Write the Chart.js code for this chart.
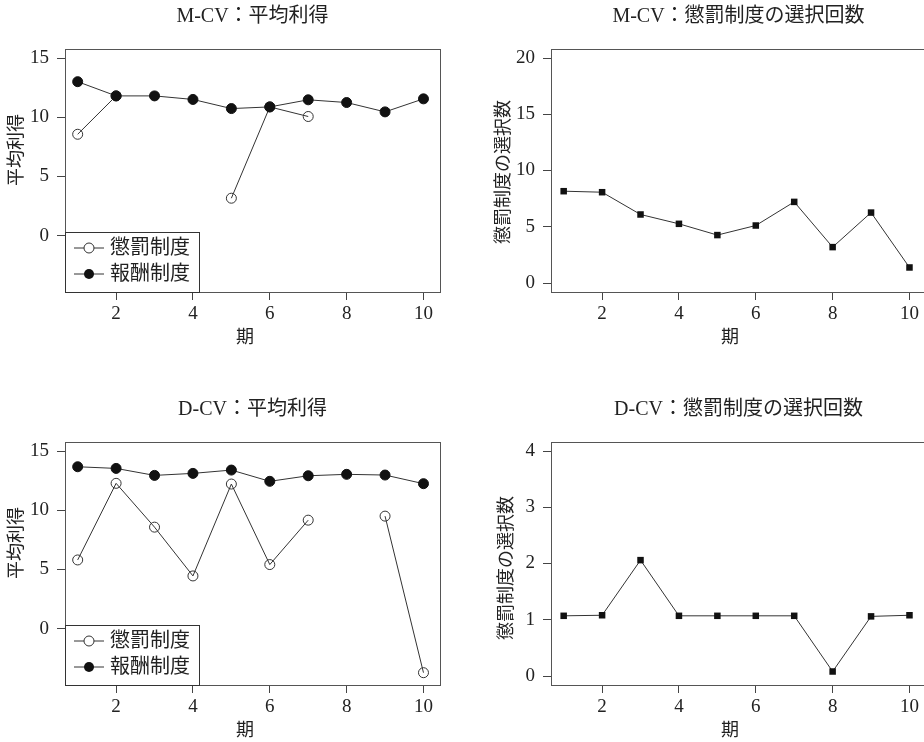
<!DOCTYPE html>
<html>
<head>
<meta charset="utf-8">
<script src="https://cdn.jsdelivr.net/npm/chart.js@4.4.1/dist/chart.umd.min.js"></script>
<style>
  body { margin: 0; background: #fff; width: 924px; height: 742px; overflow: hidden; position: relative; }
  canvas { position: absolute; }
</style>
</head>
<body>
<canvas id="c1" width="462" height="371" style="left:0;top:0"></canvas>
<canvas id="c2" width="470" height="371" style="left:462px;top:0"></canvas>
<canvas id="c3" width="462" height="371" style="left:0;top:371px"></canvas>
<canvas id="c4" width="470" height="371" style="left:462px;top:371px"></canvas>
<script>
const periods = [1, 2, 3, 4, 5, 6, 7, 8, 9, 10];
const mcvPunish = [8.56, 11.8, null, null, 3.16, 10.87, 10.06, null, null, null];
const mcvReward = [13.0, 11.8, 11.8, 11.5, 10.73, 10.87, 11.47, 11.24, 10.45, 11.55];
const mcvChoice = [8.16, 8.07, 6.09, 5.26, 4.26, 5.11, 7.21, 3.19, 6.26, 1.38];
const dcvPunish = [5.80, 12.27, 8.57, 4.45, 12.21, 5.41, 9.16, null, 9.50, -3.72];
const dcvReward = [13.67, 13.53, 12.94, 13.11, 13.39, 12.44, 12.91, 13.03, 12.97, 12.24];
const dcvChoice = [1.07, 1.08, 2.06, 1.07, 1.07, 1.07, 1.07, 0.08, 1.06, 1.08];

const xTicks = [2, 4, 6, 8, 10];
const payoffTicks = [0, 5, 10, 15];
const mcvChoiceTicks = [0, 5, 10, 15, 20];
const dcvChoiceTicks = [0, 1, 2, 3, 4];

const seriesNames = ['懲罰制度', '報酬制度'];
const FONT = '"Liberation Serif", "Noto Sans CJK JP", serif';
const INK = '#222';

const pts = vals => periods.map((p, i) => ({ x: p, y: vals[i] }));

// draws the R-style box, titles, axis labels and legend
const decor = {
  id: 'decor',
  afterDraw(chart, args, o) {
    const { ctx, chartArea: a } = chart;
    ctx.save();
    ctx.strokeStyle = '#555';
    ctx.lineWidth = 1;
    ctx.strokeRect(a.left + 0.5, a.top + 0.5, a.right - a.left, a.bottom - a.top);

    ctx.fillStyle = INK;
    ctx.textAlign = 'center';
    ctx.textBaseline = 'middle';
    ctx.font = '20px ' + FONT;
    ctx.fillText(o.title, (a.left + a.right) / 2, o.titleY);

    ctx.font = '18px ' + FONT;
    ctx.fillText('期', o.xlab[0], o.xlab[1]);

    ctx.save();
    ctx.translate(o.ylab[0], o.ylab[1]);
    ctx.rotate(-Math.PI / 2);
    ctx.fillText(o.ylabText, 0, 0);
    ctx.restore();

    if (o.legend) {
      const lx = a.left, ly = a.bottom - 60;
      ctx.fillStyle = '#fff';
      ctx.fillRect(lx, ly, 134, 60);
      ctx.strokeStyle = '#333';
      ctx.strokeRect(lx + 0.5, ly + 0.5, 134, 60);
      seriesNames.forEach((name, i) => {
        const y = ly + 16 + i * 26;
        ctx.strokeStyle = '#333';
        ctx.beginPath();
        ctx.moveTo(lx + 9, y);
        ctx.lineTo(lx + 39, y);
        ctx.stroke();
        ctx.beginPath();
        ctx.arc(lx + 24, y, 5, 0, Math.PI * 2);
        if (i === 0) {
          ctx.fillStyle = '#fff';
          ctx.fill();
          ctx.stroke();
        } else {
          ctx.fillStyle = '#111';
          ctx.fill();
        }
        ctx.fillStyle = INK;
        ctx.textAlign = 'left';
        ctx.font = '20px ' + FONT;
        ctx.fillText(name, lx + 45, y + 1);
      });
    }
    ctx.restore();
  }
};

function scales(ymin, ymax, yTicks, yWidth, xHeight) {
  const grid = { display: true, drawOnChartArea: false, drawTicks: true, tickLength: 8, color: '#444' };
  return {
    x: {
      type: 'linear', min: 0.67, max: 10.43,
      grid, border: { display: false },
      afterBuildTicks: s => { s.ticks = xTicks.map(v => ({ value: v })); },
      afterFit: s => { s.height = xHeight; },
      ticks: { color: INK, font: { family: FONT, size: 19 }, padding: 3, maxRotation: 0 }
    },
    y: {
      min: ymin, max: ymax,
      grid, border: { display: false },
      afterBuildTicks: s => { s.ticks = yTicks.map(v => ({ value: v })); },
      afterFit: s => { s.width = yWidth; },
      ticks: { color: INK, font: { family: FONT, size: 19 }, padding: 8 }
    }
  };
}

const baseOpts = {
  responsive: false,
  animation: false,
  plugins: { legend: { display: false }, tooltip: { enabled: false } }
};

function payoffChart(id, punish, reward, title, top, bottom) {
  new Chart(document.getElementById(id), {
    type: 'line',
    data: {
      datasets: [
        { data: pts(punish), order: 1, borderColor: '#333', borderWidth: 1, pointRadius: 5,
          pointBackgroundColor: 'rgba(0,0,0,0)', pointBorderColor: '#333', pointBorderWidth: 1, tension: 0 },
        { data: pts(reward), order: 0, borderColor: '#333', borderWidth: 1, pointRadius: 5,
          pointBackgroundColor: '#111', pointBorderColor: '#111', pointBorderWidth: 1, tension: 0 }
      ]
    },
    options: {
      ...baseOpts,
      layout: { padding: { top: top, left: 0, right: 22, bottom: 0 } },
      scales: scales(-4.76, 15.76, payoffTicks, 65, 371 - bottom),
      plugins: {
        ...baseOpts.plugins,
        decor: { title: title, titleY: top - 32, xlab: [245, bottom + 46], ylab: [17, top + 101], ylabText: '平均利得', legend: true }
      }
    },
    plugins: [decor]
  });
}

function choiceChart(id, vals, ymin, ymax, yTicks, title, top, bottom, ylabY, ylabX) {
  new Chart(document.getElementById(id), {
    type: 'line',
    data: {
      datasets: [
        { data: pts(vals), borderColor: '#333', borderWidth: 1, pointStyle: 'rect', pointRadius: 4.6,
          pointBackgroundColor: '#111', pointBorderColor: '#111', pointBorderWidth: 0, tension: 0 }
      ]
    },
    options: {
      ...baseOpts,
      layout: { padding: { top: top, left: 0, right: 6, bottom: 0 } },
      scales: scales(ymin, ymax, yTicks, 89, 371 - bottom),
      plugins: {
        ...baseOpts.plugins,
        decor: { title: title, titleY: top - 32, xlab: [268, bottom + 46], ylab: [ylabX, ylabY], ylabText: '懲罰制度の選択数', legend: false }
      }
    },
    plugins: [decor]
  });
}

payoffChart('c1', mcvPunish, mcvReward, 'M-CV：平均利得', 49, 292);
choiceChart('c2', mcvChoice, -0.8, 20.8, mcvChoiceTicks, 'M-CV：懲罰制度の選択回数', 49, 292, 172, 42);
payoffChart('c3', dcvPunish, dcvReward, 'D-CV：平均利得', 71, 314);
choiceChart('c4', dcvChoice, -0.16, 4.16, dcvChoiceTicks, 'D-CV：懲罰制度の選択回数', 71, 314, 197, 45);
</script>
</body>
</html>
